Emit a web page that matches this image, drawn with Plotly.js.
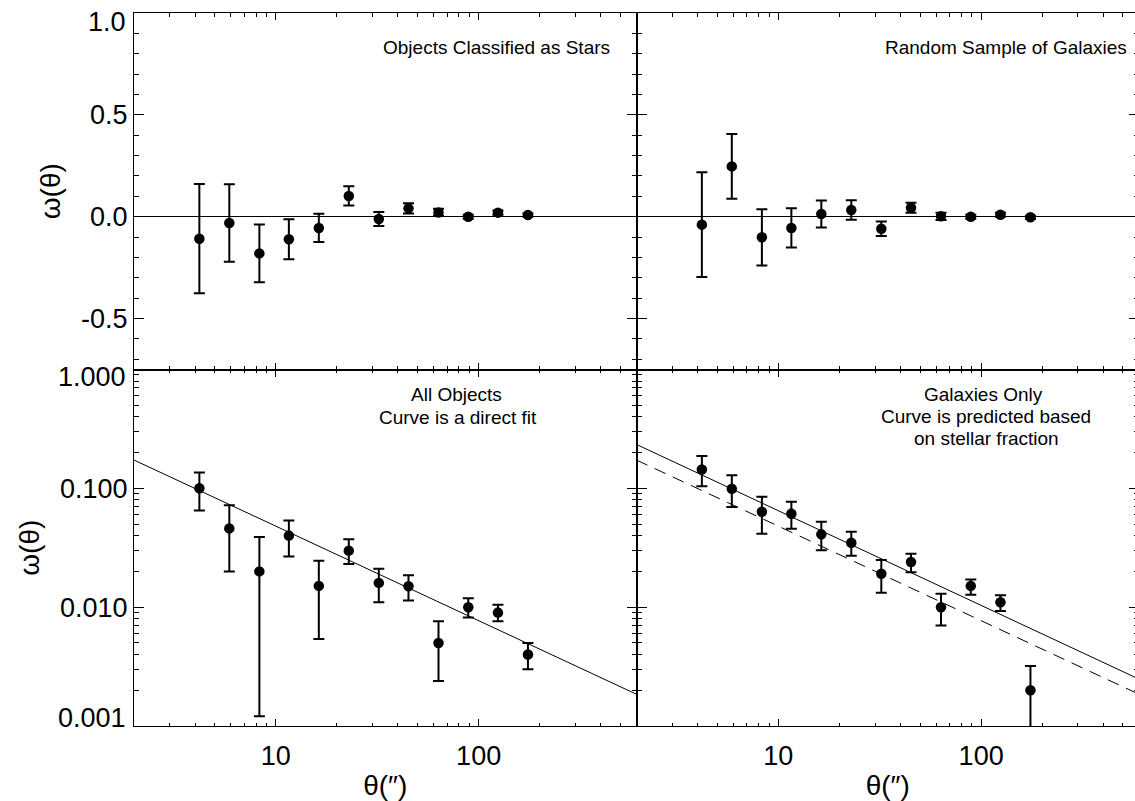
<!DOCTYPE html>
<html>
<head>
<meta charset="utf-8">
<script src="https://cdn.plot.ly/plotly-3.0.1.min.js"></script>
<style>
html, body { margin: 0; padding: 0; overflow: hidden; background: #fff; }
#chart { width: 1139px; height: 801px; }
</style>
</head>
<body>
<div id="chart"></div>
<script>
// ---- data ----
const theta = [4.2, 5.9, 8.3, 11.6, 16.3, 22.9, 32.2, 45.1, 63.4, 88.9, 124.5, 175];

// top-left: objects classified as stars (linear)
const starsW   = [-0.108, -0.031, -0.180, -0.111, -0.055, 0.102, -0.011, 0.041, 0.021, 0.000, 0.020, 0.008];
const starsErr = [0.268, 0.190, 0.142, 0.098, 0.069, 0.047, 0.034, 0.025, 0.018, 0.010, 0.010, 0.008];

// top-right: random sample of galaxies (linear)
const randW   = [-0.039, 0.247, -0.101, -0.055, 0.013, 0.033, -0.059, 0.044, 0.002, 0.000, 0.010, -0.003];
const randErr = [0.257, 0.159, 0.138, 0.096, 0.066, 0.048, 0.036, 0.025, 0.018, 0.010, 0.010, 0.008];

// bottom-left: all objects (log)
const allW  = [0.100, 0.046, 0.020, 0.040, 0.0151, 0.0299, 0.0160, 0.0150, 0.0050, 0.0100, 0.0090, 0.0040];
const allHi = [0.136, 0.072, 0.0389, 0.0537, 0.0246, 0.0372, 0.0211, 0.0186, 0.0076, 0.0119, 0.0105, 0.0050];
const allLo = [0.065, 0.020, 0.00121, 0.0267, 0.0054, 0.0231, 0.0110, 0.0114, 0.00239, 0.0082, 0.0076, 0.0030];

// bottom-right: galaxies only (log)
const galW  = [0.144, 0.099, 0.0636, 0.0611, 0.0410, 0.0348, 0.0191, 0.0240, 0.0100, 0.0151, 0.0110, 0.0020];
const galHi = [0.187, 0.129, 0.0850, 0.0771, 0.0524, 0.0431, 0.0249, 0.0282, 0.0130, 0.0171, 0.0126, 0.0032];
const galLo = [0.104, 0.0695, 0.0415, 0.0457, 0.0301, 0.0271, 0.0132, 0.0197, 0.0070, 0.0127, 0.0093, 0.0005];

// fit / prediction curves (end points)
const fitX     = [2, 600];
const fitAllY  = [0.173, 0.00185];
const fitGalY  = [0.234, 0.00248];
const predGalY = [0.173, 0.00185];

// ticks
const xMajor = [10, 100];
const xMajorText = ['10', '100'];
const xMinor = [2,3,4,5,6,7,8,9,20,30,40,50,60,70,80,90,200,300,400,500,600];
const linMajor = [-0.5, 0.0, 0.5, 1.0];
const linMajorText = ['-0.5', '0.0', '0.5', ''];
const linMinor = [-0.7,-0.6,-0.4,-0.3,-0.2,-0.1,0.1,0.2,0.3,0.4,0.6,0.7,0.8,0.9];
const logMajor = [0.001, 0.01, 0.1, 1];
const logMajorText = ['', '0.010', '0.100', ''];
const logMinor = [0.002,0.003,0.004,0.005,0.006,0.007,0.008,0.009,
                  0.02,0.03,0.04,0.05,0.06,0.07,0.08,0.09,
                  0.2,0.3,0.4,0.5,0.6,0.7,0.8,0.9];
// end labels placed inside like the original
const edgeLabels = [
  {text: '1.0',   value: 1.0,   panel: 'top',    shift: 9},
  {text: '1.000', value: 1.0,   panel: 'bottom', shift: 7},
  {text: '0.001', value: 0.001, panel: 'bottom', shift: -8}
];

const FONT = 'Liberation Sans, Arial, Helvetica, sans-serif';
const TICKFONT = {family: FONT, size: 27, color: '#000'};

// ---- traces ----
function pts(y, xa, ya, hi, lo) {
  return {
    type: 'scatter', mode: 'markers', x: theta, y: y, xaxis: xa, yaxis: ya,
    marker: {symbol: 'circle', size: 10.5, color: '#000'},
    error_y: {type: 'data', symmetric: false, array: hi, arrayminus: lo,
              color: '#000', thickness: 2, width: 5.5},
    showlegend: false, hoverinfo: 'x+y'
  };
}
function diff(a, b) { return a.map((v, i) => v - b[i]); }

const traces = [
  pts(starsW, 'x', 'y', starsErr, starsErr),
  pts(randW, 'x2', 'y2', randErr, randErr),
  {type: 'scatter', mode: 'lines', x: fitX, y: fitAllY, xaxis: 'x3', yaxis: 'y3',
   line: {color: '#000', width: 1}, showlegend: false, hoverinfo: 'skip'},
  pts(allW, 'x3', 'y3', diff(allHi, allW), diff(allW, allLo)),
  {type: 'scatter', mode: 'lines', x: fitX, y: fitGalY, xaxis: 'x4', yaxis: 'y4',
   line: {color: '#000', width: 1}, showlegend: false, hoverinfo: 'skip'},
  {type: 'scatter', mode: 'lines', x: fitX, y: predGalY, xaxis: 'x4', yaxis: 'y4',
   line: {color: '#000', width: 1, dash: '12px,8px'}, showlegend: false, hoverinfo: 'skip'},
  pts(galW, 'x4', 'y4', diff(galHi, galW), diff(galW, galLo))
];

// ---- axes ----
function xAxis(domain, anchor, labels) {
  const ax = {
    type: 'log', range: [Math.log10(2), Math.log10(600)], domain: domain, anchor: anchor,
    showline: true, linecolor: '#000', linewidth: 1, mirror: 'ticks',
    ticks: 'inside', ticklen: 7, tickwidth: 1, tickcolor: '#000',
    tickmode: 'array', tickvals: xMajor, ticktext: xMajorText,
    showticklabels: labels, tickfont: TICKFONT, ticklabelstandoff: 6,
    minor: {tickmode: 'array', tickvals: xMinor, ticks: 'inside', ticklen: 3.5, tickwidth: 1, tickcolor: '#000', showgrid: false},
    showgrid: false, zeroline: false, fixedrange: true
  };
  if (labels) ax.title = {text: 'θ(″)', font: {family: FONT, size: 28, color: '#000'}, standoff: 14};
  return ax;
}
function yLin(domain, anchor, labels) {
  const ax = {
    type: 'linear', range: [-0.75, 1.0], domain: domain, anchor: anchor,
    showline: true, linecolor: '#000', linewidth: 1, mirror: 'ticks',
    ticks: 'inside', ticklen: 10, tickwidth: 1, tickcolor: '#000',
    tickmode: 'array', tickvals: linMajor, ticktext: linMajorText,
    showticklabels: labels, tickfont: TICKFONT,
    minor: {tickmode: 'array', tickvals: linMinor, ticks: 'inside', ticklen: 5, tickwidth: 1, tickcolor: '#000', showgrid: false},
    showgrid: false, zeroline: true, zerolinecolor: '#000', zerolinewidth: 1, fixedrange: true
  };
  if (labels) ax.title = {text: 'ω(θ)', font: {family: FONT, size: 28, color: '#000'}, standoff: 12};
  return ax;
}
function yLog(domain, anchor, labels) {
  const ax = {
    type: 'log', range: [-3, 0], domain: domain, anchor: anchor,
    showline: true, linecolor: '#000', linewidth: 1, mirror: 'ticks',
    ticks: 'inside', ticklen: 10, tickwidth: 1, tickcolor: '#000',
    tickmode: 'array', tickvals: logMajor, ticktext: logMajorText,
    showticklabels: labels, tickfont: TICKFONT,
    minor: {tickmode: 'array', tickvals: logMinor, ticks: 'inside', ticklen: 5, tickwidth: 1, tickcolor: '#000', showgrid: false},
    showgrid: false, zeroline: false, fixedrange: true
  };
  if (labels) ax.title = {text: 'ω(θ)', font: {family: FONT, size: 28, color: '#000'}, standoff: 12};
  return ax;
}

// ---- annotations (pixel helper for the 1139x801 canvas) ----
const M = {l: 134, r: 0, t: 13, b: 75};
const W = 1139, H = 801;
function px(x) { return (x - M.l) / (W - M.l - M.r); }
function py(y) { return (H - M.b - y) / (H - M.t - M.b); }
const NOTEFONT = {family: FONT, size: 19, color: '#000'};
function note(text, x, y, anchor) {
  return {text: text, xref: 'paper', yref: 'paper', x: px(x), y: py(y),
          xanchor: anchor, yanchor: 'middle', showarrow: false, font: NOTEFONT, borderpad: 0};
}
const annotations = [
  note('Objects Classified as Stars', 611, 47, 'right'),
  note('Random Sample of Galaxies', 1128, 47, 'right'),
  note('All Objects', 456, 395, 'center'),
  note('Curve is a direct fit', 458, 417, 'center'),
  note('Galaxies Only', 983, 394, 'center'),
  note('Curve is predicted based', 986, 416, 'center'),
  note('on stellar fraction', 986, 438, 'center')
];
// edge tick labels
const topTop = 13, topBot = 369.5, botTop = 369.5, botBot = 726;
edgeLabels.forEach(e => {
  let ypix;
  if (e.panel === 'top') {
    ypix = topBot - (e.value + 0.75) / 1.75 * (topBot - topTop);
  } else {
    ypix = botBot - (Math.log10(e.value) + 3) / 3 * (botBot - botTop);
  }
  annotations.push({text: e.text, xref: 'paper', yref: 'paper', x: px(127), y: py(ypix + e.shift),
    xanchor: 'right', yanchor: 'middle', showarrow: false, font: TICKFONT, borderpad: 0});
});

const layout = {
  width: W, height: H,
  margin: M,
  paper_bgcolor: '#fff', plot_bgcolor: '#fff',
  font: {family: FONT, color: '#000'},
  showlegend: false,
  xaxis:  xAxis([0, 0.5], 'y', false),
  xaxis2: xAxis([0.5, 1], 'y2', false),
  xaxis3: xAxis([0, 0.5], 'y3', true),
  xaxis4: xAxis([0.5, 1], 'y4', true),
  yaxis:  yLin([0.5, 1], 'x', true),
  yaxis2: yLin([0.5, 1], 'x2', false),
  yaxis3: yLog([0, 0.5], 'x3', true),
  yaxis4: yLog([0, 0.5], 'x4', false),
  annotations: annotations
};

Plotly.newPlot('chart', traces, layout, {displayModeBar: false, responsive: false});
</script>
</body>
</html>
